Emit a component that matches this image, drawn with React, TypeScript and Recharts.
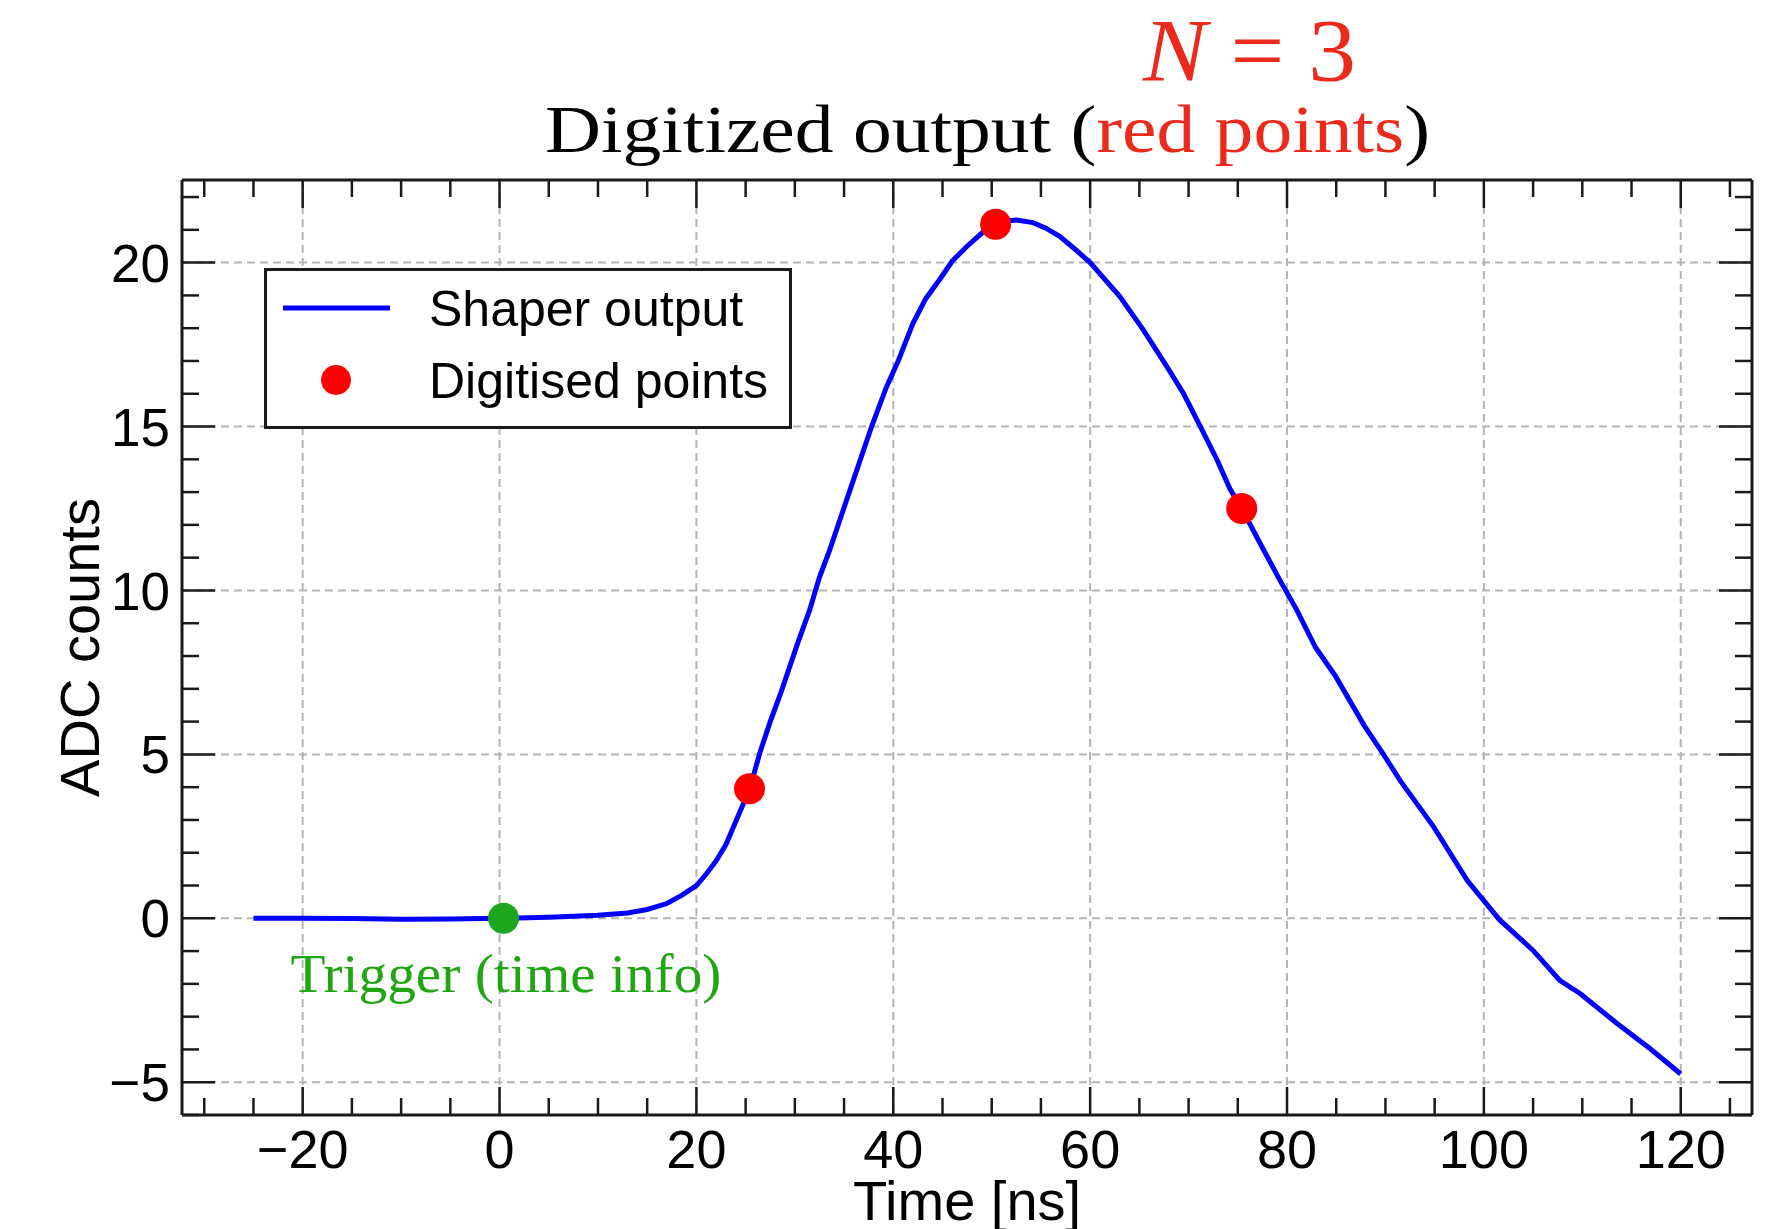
import { ComposedChart, Line, Scatter, XAxis, YAxis, CartesianGrid, Legend } from 'recharts';

// shaper output (time in ns, ADC counts)
const shaperTime = [
  -25, -20, -15, -10, -5, 0, 5, 10, 13, 15, 17, 18.5, 20, 21, 22, 23, 24, 25.4, 26.5, 27.5,
  28.6, 30.3, 31.5, 32.5, 33.5, 35.6, 37.8, 39.3, 40.5, 42, 43.3, 44.75, 46, 47.5, 49, 50.4,
  51.5, 52.5, 54.2, 55.5, 56.9, 58.5, 60, 63, 65.4, 67.8, 69.5, 71.2, 72.9, 74.2, 75.4, 77.6,
  79.3, 81, 82.9, 84.9, 87.8, 89.8, 91.5, 94.9, 98.3, 101.6, 105, 107.7, 109.8, 113.5, 116.9, 120,
];
const shaperAdc = [
  0, 0, -0.01, -0.03, -0.02, 0, 0.03, 0.09, 0.16, 0.27, 0.45, 0.7, 1.0, 1.35, 1.75, 2.25, 2.95, 3.94, 5.1, 6.0,
  6.9, 8.4, 9.4, 10.4, 11.2, 13.06, 15.0, 16.2, 17.0, 18.15, 18.9, 19.5, 20.05, 20.5, 20.9, 21.17,
  21.27, 21.3, 21.22, 21.05, 20.8, 20.4, 20.0, 18.97, 17.95, 16.83, 16.0, 15.0, 13.98, 13.1, 12.5, 11.25,
  10.3, 9.4, 8.26, 7.4, 5.9, 5.0, 4.2, 2.79, 1.16, -0.05, -0.98, -1.89, -2.3, -3.2, -3.98, -4.75,
];

// digitised samples (N = 3) and the trigger point
const sampleTime = [25.4, 50.4, 75.4];
const sampleAdc = [3.95, 21.17, 12.5];
const triggerTime = [0.4];
const triggerAdc = [0];

const xTicks = [-30, -25, -20, -15, -10, -5, 0, 5, 10, 15, 20, 25, 30, 35, 40, 45, 50, 55, 60, 65, 70, 75, 80, 85, 90, 95, 100, 105, 110, 115, 120, 125];
const xMajor = [-20, 0, 20, 40, 60, 80, 100, 120];
const yTicks = [-6, -5, -4, -3, -2, -1, 0, 1, 2, 3, 4, 5, 6, 7, 8, 9, 10, 11, 12, 13, 14, 15, 16, 17, 18, 19, 20, 21, 22];
const yMajor = [-5, 0, 5, 10, 15, 20];
const legendNames = ['Shaper output', 'Digitised points'];

const shaper = shaperTime.map((t, i) => ({ t, adc: shaperAdc[i] }));
const samples = sampleTime.map((t, i) => ({ t, adc: sampleAdc[i] }));
const trigger = triggerTime.map((t, i) => ({ t, adc: triggerAdc[i], note: 'Trigger (time info)' }));

const X_DOMAIN: [number, number] = [-32.26, 127.24];
const Y_DOMAIN: [number, number] = [-6, 22.52];

const INK = '#1a1a1a';
const SANS = "'Liberation Sans', Arial, Helvetica, sans-serif";
const SERIF = "'Liberation Serif', 'Times New Roman', serif";
const RED_TEXT = '#ec2a1c';
const GREEN_TEXT = '#21a513';

const fmt = (v: number) => (v < 0 ? '\u2212' + Math.abs(v) : String(v));

// ticks point inwards, like a ROOT frame
const BottomTick = ({ x, y, payload }: any) => {
  const major = xMajor.includes(payload.value);
  return (
    <g>
      <line x1={x} x2={x} y1={y} y2={y - (major ? 28 : 17)} stroke={INK} strokeWidth={2.5} />
      {major && (
        <text x={x} y={y + 15} dy="0.71em" textAnchor="middle" fontSize={54} fontFamily={SANS} fill="#000">
          {fmt(payload.value)}
        </text>
      )}
    </g>
  );
};

const TopTick = ({ x, y, payload }: any) => {
  const major = xMajor.includes(payload.value);
  return <line x1={x} x2={x} y1={y} y2={y + (major ? 28 : 17)} stroke={INK} strokeWidth={2.5} />;
};

const LeftTick = ({ x, y, payload }: any) => {
  const major = yMajor.includes(payload.value);
  return (
    <g>
      <line x1={x} x2={x + (major ? 33 : 17)} y1={y} y2={y} stroke={INK} strokeWidth={2.5} />
      {major && (
        <text x={x - 12} y={y} dy="0.36em" textAnchor="end" fontSize={53} fontFamily={SANS} fill="#000">
          {fmt(payload.value)}
        </text>
      )}
    </g>
  );
};

const RightTick = ({ x, y, payload }: any) => {
  const major = yMajor.includes(payload.value);
  return <line x1={x} x2={x - (major ? 33 : 17)} y1={y} y2={y} stroke={INK} strokeWidth={2.5} />;
};

const YTitle = ({ viewBox }: any) => {
  const cy = viewBox.y + viewBox.height / 2;
  return (
    <text x={99} y={cy} transform={`rotate(-90 99 ${cy})`} textAnchor="middle" fontSize={56} fontFamily={SANS} fill="#000">
      ADC counts
    </text>
  );
};

const RedDot = ({ cx, cy }: any) => <circle cx={cx} cy={cy} r={15.5} fill="#ff0000" />;

const TriggerDot = ({ cx, cy, payload }: any) => (
  <g>
    <circle cx={cx} cy={cy} r={15.5} fill="#1ea51e" />
    <text x={cx + 2.5} y={cy + 74} textAnchor="middle" fontSize={54} fontFamily={SERIF} fill={GREEN_TEXT}
      textLength={431} lengthAdjust="spacingAndGlyphs">
      {payload.note}
    </text>
  </g>
);

// only the two named series go in the box, line entry first
const LegendBox = ({ payload }: any) => {
  const items = legendNames
    .map((name) => (payload || []).find((e: any) => e.value === name))
    .filter(Boolean);
  return (
    <svg width={528} height={161} style={{ display: 'block', overflow: 'visible' }}>
      <rect x={1.5} y={1.5} width={525} height={158} fill="#fff" stroke={INK} strokeWidth={3} />
      {items.map((entry: any, i: number) => {
        const cy = 40 + i * 72;
        return (
          <g key={entry.value}>
            {entry.type === 'line' ? (
              <line x1={19} x2={126} y1={cy} y2={cy} stroke={entry.color} strokeWidth={5} />
            ) : (
              <circle cx={72} cy={cy} r={15} fill={entry.color} />
            )}
            <text x={165} y={cy + 18} fontSize={50} fontFamily={SANS} fill="#000">
              {entry.value}
            </text>
          </g>
        );
      })}
    </svg>
  );
};

export default function App() {
  return (
    <div style={{ position: 'absolute', left: 0, top: 0, width: 1768, height: 1229, background: '#fff' }}>
      <ComposedChart width={1768} height={1229} margin={{ top: 179, right: 15, bottom: 0, left: 0 }}>
        <CartesianGrid stroke="#b4b4b4" strokeWidth={2} strokeDasharray="8 5" verticalValues={xMajor} horizontalValues={yMajor} />
        <XAxis type="number" dataKey="t" domain={X_DOMAIN} allowDataOverflow ticks={xTicks} interval={0}
          height={114} tickSize={0} tickMargin={0} tickLine={false} tick={<BottomTick />}
          axisLine={{ stroke: INK, strokeWidth: 3 }}
          label={{ value: 'Time [ns]', position: 'insideBottom', offset: 9, fontSize: 56, fontFamily: SANS, fill: '#000' }} />
        <XAxis xAxisId="top" orientation="top" type="number" dataKey="t" domain={X_DOMAIN} allowDataOverflow ticks={xTicks} interval={0}
          height={1} tickSize={0} tickMargin={0} tickLine={false} tick={<TopTick />}
          axisLine={{ stroke: INK, strokeWidth: 3 }} />
        <YAxis type="number" dataKey="adc" domain={Y_DOMAIN} allowDataOverflow ticks={yTicks} interval={0}
          width={182} tickSize={0} tickMargin={0} tickLine={false} tick={<LeftTick />}
          axisLine={{ stroke: INK, strokeWidth: 3 }} label={{ content: YTitle }} />
        <YAxis yAxisId="right" orientation="right" type="number" dataKey="adc" domain={Y_DOMAIN} allowDataOverflow ticks={yTicks} interval={0}
          width={1} tickSize={0} tickMargin={0} tickLine={false} tick={<RightTick />}
          axisLine={{ stroke: INK, strokeWidth: 3 }} />
        {/* invisible copy of the curve bound to the mirrored top/right axes */}
        <Line data={shaper} dataKey="adc" xAxisId="top" yAxisId="right" legendType="none" stroke="none"
          dot={false} activeDot={false} isAnimationActive={false} />
        <Line data={shaper} dataKey="adc" name="Shaper output" type="linear" stroke="#0000ff" strokeWidth={5}
          dot={false} activeDot={false} isAnimationActive={false} />
        <Scatter data={samples} dataKey="adc" name="Digitised points" fill="#ff0000" shape={<RedDot />} isAnimationActive={false} />
        <Scatter data={trigger} dataKey="adc" name="Trigger" legendType="none" fill="#1ea51e" shape={<TriggerDot />} isAnimationActive={false} />
        <Legend layout="vertical" align="center" verticalAlign="middle" content={<LegendBox />}
          wrapperStyle={{ position: 'absolute', left: 264, top: 268, width: 528, height: 161 }} />
      </ComposedChart>
      <svg width={1768} height={180} style={{ position: 'absolute', left: 0, top: 0, pointerEvents: 'none' }}>
        <text x={1143} y={80} fontSize={88} fontFamily={SERIF} fill={RED_TEXT} textLength={213} lengthAdjust="spacingAndGlyphs">
          <tspan fontStyle="italic">N</tspan> = 3
        </text>
        <text x={545} y={152} fontSize={67} fontFamily={SERIF} fill="#000" textLength={885} lengthAdjust="spacingAndGlyphs">
          Digitized output (<tspan fill={RED_TEXT}>red points</tspan>)
        </text>
      </svg>
    </div>
  );
}
